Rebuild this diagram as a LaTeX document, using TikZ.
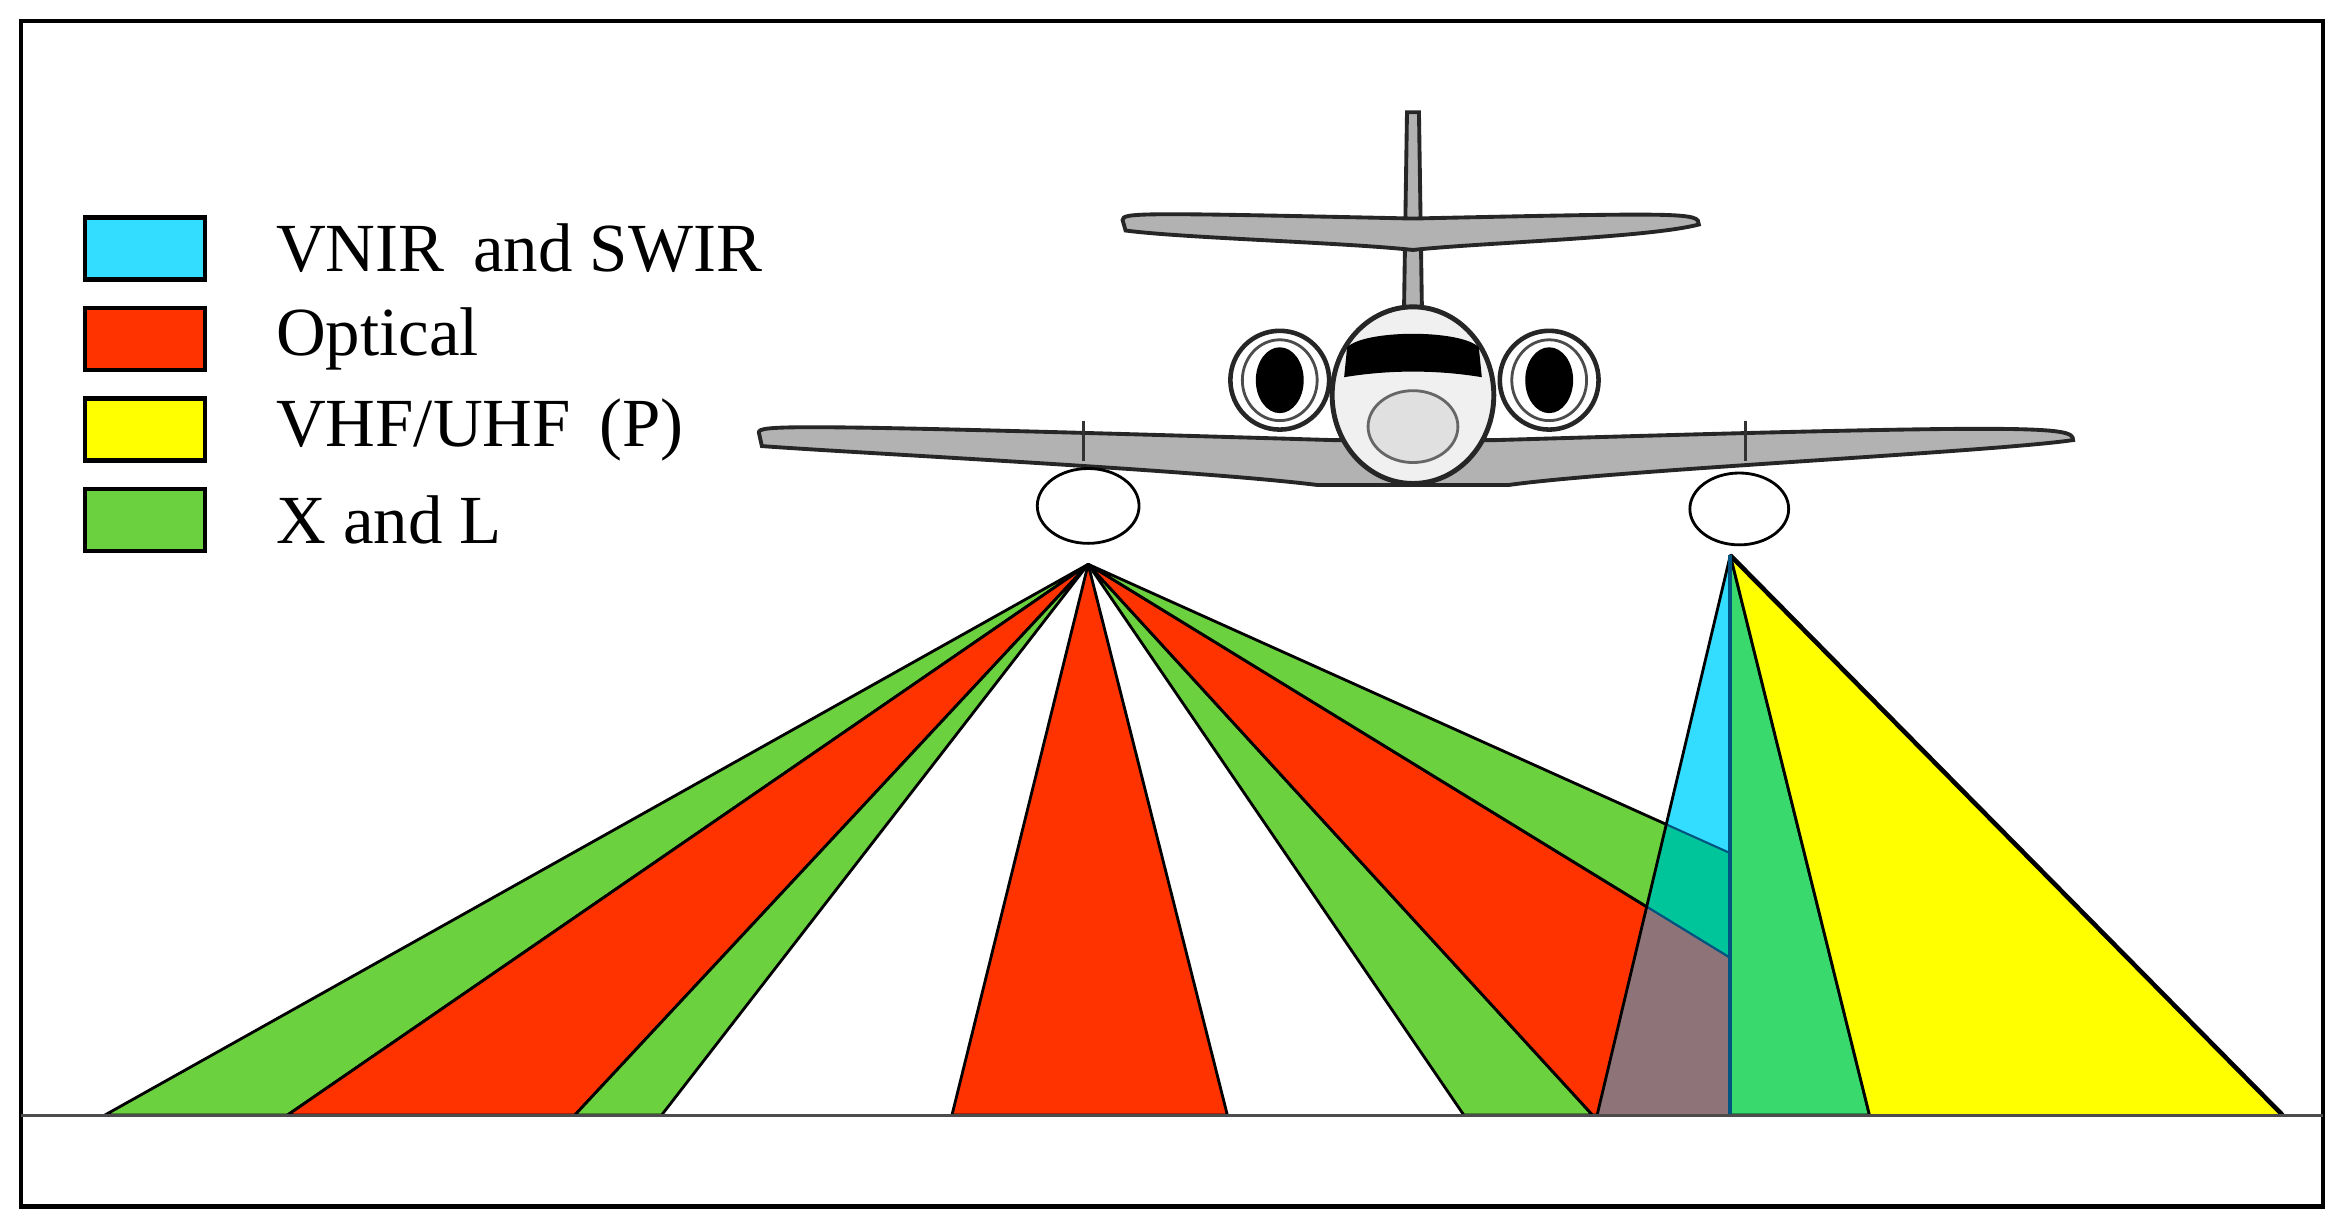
\documentclass[tikz,border=0pt]{standalone}
\usepackage{fontspec}
\setmainfont{Liberation Serif}
\usetikzlibrary{positioning}
\definecolor{beamgreen}{HTML}{6CD13E}
\definecolor{beamred}{HTML}{FF3300}
\definecolor{beamcyan}{HTML}{33DDFF}
\definecolor{beamyellow}{HTML}{FFFF00}
\definecolor{beamteal}{HTML}{00C49A}
\definecolor{beambrown}{HTML}{8E7378}
\definecolor{beamgreenb}{HTML}{3AD96E}
\definecolor{edgeblue}{HTML}{005580}
\tikzset{
  legendbox/.style={rectangle, draw, line width=1.3pt, minimum width=1.2cm, minimum height=0.62cm, inner sep=0pt},
  legendtext/.style={anchor=west, font=\fontsize{19.6}{22}\selectfont, inner sep=0pt},
  beam/.style={draw=black, line width=0.8pt, line join=round},
  planepart/.style={draw=black!85, line width=1.1pt, fill=black!30}
}
\begin{document}
\begin{tikzpicture}[x=0.014968cm, y=-0.014968cm]
\useasboundingbox (0,0) rectangle (1560,821.7);
\draw[line width=1.3pt] (14,14) rectangle (1552,806);

% apexes of the two sensor fans
\coordinate (A) at (727,377);
\coordinate (B) at (1156,371);

% left fan
\fill[beamgreen, beam] (A) -- (70,745) -- (192,745) -- cycle;
\fill[beamred, beam] (A) -- (192,745) -- (384,745) -- cycle;
\fill[beamgreen, beam] (A) -- (384,745) -- (442,745) -- cycle;
\fill[beamred, beam] (A) -- (636,745) -- (820,745) -- cycle;
\fill[beamgreen, beam] (A) -- (978,745) -- (1064,745) -- cycle;
\fill[beamred, beam] (A) -- (1064,745) -- (1156,745) -- (1156,640) -- cycle;
\fill[beamgreen, beam] (A) -- (1156,640) -- (1156,570) -- cycle;

% right fan
\fill[beamcyan] (B) -- (1067,745) -- (1156,745) -- cycle;
\begin{scope}
  \clip (B) -- (1067,745) -- (1156,745) -- cycle;
  \fill[beamteal, draw=edgeblue, line width=0.6pt] (A) -- (1156,640) -- (1156,570) -- cycle;
  \fill[beambrown, draw=edgeblue, line width=0.6pt] (A) -- (1064,745) -- (1156,745) -- (1156,640) -- cycle;
\end{scope}
\draw[beam] (B) -- (1067,745);
\fill[beamgreenb, beam] (B) -- (1156,745) -- (1249,745) -- cycle;
\fill[beamyellow] (B) -- (1249,745) -- (1525,745) -- cycle;
\draw[beam] (B) -- (1249,745);
\draw[line width=1.3pt] (B) -- (1525,745);
\draw[edgeblue, line width=1.2pt] (B) -- (1156,745);

% ground
\draw[black!70, line width=0.9pt] (14,745) -- (1552,745);

% aircraft
\fill[planepart] (940,75) -- (948,75) -- (950,208) -- (938,208) -- cycle;
\fill[planepart] (750,147) .. controls (750,142) and (760,142) .. (944,146)
  .. controls (1128,142) and (1135,142) .. (1135,150) .. controls (1100,159) and (990,162) .. (944,167)
  .. controls (898,162) and (790,159) .. (752,154) -- cycle;
\fill[planepart] (507,289) .. controls (507,284) and (520,283) .. (890,294) -- (1000,294)
  .. controls (1370,283) and (1385,285) .. (1385,294) .. controls (1330,302) and (1080,314) .. (1008,324)
  -- (880,324) .. controls (800,314) and (560,302) .. (509,298) -- cycle;
\draw[black!80, line width=0.8pt] (724,281) -- (724,308);
\draw[black!80, line width=0.8pt] (1166,281) -- (1166,308);
\foreach \ex in {855,1035}{
  \draw[black!85, line width=1.3pt, fill=white] (\ex,254) ellipse (33 and 33);
  \draw[black!70, line width=0.8pt] (\ex,254) ellipse (25 and 27);
  \fill[black] (\ex,254) ellipse (16 and 22);
}
\draw[black!85, line width=1.4pt, fill=black!6] (944,264) ellipse (54 and 59);
\fill[black] (900,232) .. controls (912,220) and (976,220) .. (988,232) -- (990,252) .. controls (960,247) and (928,247) .. (898,252) -- cycle;
\draw[black!60, line width=0.8pt, fill=black!12] (944,285) ellipse (30 and 24);

% sensor pods
\draw[line width=0.8pt, fill=white] (727,338) ellipse (34 and 25);
\draw[line width=0.8pt, fill=white] (1162,340) ellipse (33 and 24);

% legend
\node[legendbox, fill=beamcyan] (kvnir) at (97,166) {};
\node[legendbox, fill=beamred, below=0.24cm of kvnir] (kopt) {};
\node[legendbox, fill=beamyellow, below=0.24cm of kopt] (kvhf) {};
\node[legendbox, fill=beamgreen, below=0.24cm of kvhf] (kxl) {};
\node[legendtext, right=0.68cm of kvnir] (tvnir) {VNIR\, and SWIR};
\node[legendtext, right=0.68cm of kopt] (topt) {Optical};
\node[legendtext, right=0.68cm of kvhf] (tvhf) {VHF/UHF\, (P)};
\node[legendtext, right=0.68cm of kxl] (txl) {X and L};
\end{tikzpicture}
\end{document}
